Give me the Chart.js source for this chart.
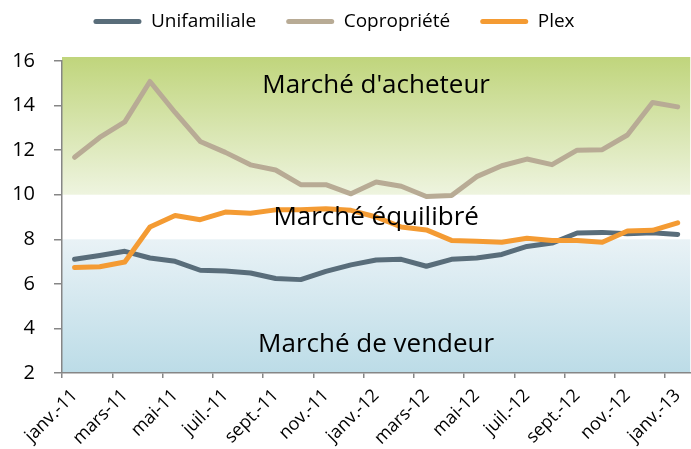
<html>
<head>
    <meta charset="utf-8">
    <title>Marché</title>
    <style>
        html, body { margin: 0; padding: 0; overflow: hidden; background: #fff; }
        #myChart { display: block; margin-left: -30px; }
    </style>
</head>
<body>
    <canvas id="myChart" width="730" height="449"></canvas>
</body>
<script src="https://cdn.jsdelivr.net/npm/chart.js"></script>
<script>
    const months = ['janv.-11', 'févr.-11', 'mars-11', 'avr.-11', 'mai-11', 'juin-11', 'juil.-11', 'août-11',
        'sept.-11', 'oct.-11', 'nov.-11', 'déc.-11', 'janv.-12', 'févr.-12', 'mars-12', 'avr.-12', 'mai-12',
        'juin-12', 'juil.-12', 'août-12', 'sept.-12', 'oct.-12', 'nov.-12', 'déc.-12', 'janv.-13']
    const unifamiliale = [7.1, 7.27, 7.46, 7.16, 7.01, 6.61, 6.58, 6.49, 6.24, 6.19, 6.56, 6.85, 7.07,
        7.1, 6.79, 7.1, 7.16, 7.32, 7.68, 7.83, 8.28, 8.31, 8.25, 8.29, 8.22]
    const copropriete = [11.68, 12.57, 13.27, 15.08, 13.69, 12.39, 11.9, 11.34, 11.11, 10.45, 10.45, 10.04, 10.57,
        10.38, 9.92, 9.96, 10.81, 11.3, 11.6, 11.35, 12.0, 12.02, 12.68, 14.14, 13.94]
    const plex = [6.73, 6.77, 6.98, 8.55, 9.07, 8.88, 9.22, 9.17, 9.32, 9.32, 9.37, 9.3, 9.0,
        8.55, 8.42, 7.95, 7.91, 7.87, 8.05, 7.95, 7.95, 7.87, 8.37, 8.4, 8.74]
    const seriesNames = ['Unifamiliale', 'Copropriété', 'Plex']
    const yTicks = [2, 4, 6, 8, 10, 12, 14, 16]
    const zoneLimits = [2, 8, 10, 16]
    const zoneNames = ['Marché de vendeur', 'Marché équilibré', "Marché d'acheteur"]

    const FONT = "'Open Sans', 'Noto Sans', sans-serif"
    const AXIS = '#868686'

    const zones = {
        id: 'zones',
        beforeDraw(chart) {
            const { ctx, chartArea: a, scales: { y } } = chart
            const yLow = y.getPixelForValue(zoneLimits[1])
            const yHigh = y.getPixelForValue(zoneLimits[2])
            const w = a.right - a.left
            ctx.save()
            let g = ctx.createLinearGradient(0, a.top - 4, 0, yHigh)
            g.addColorStop(0, '#c0d57c')
            g.addColorStop(1, '#eef4df')
            ctx.fillStyle = g
            ctx.fillRect(a.left, a.top - 4, w, yHigh - a.top + 4)
            g = ctx.createLinearGradient(0, yLow, 0, a.bottom)
            g.addColorStop(0, '#e9f2f6')
            g.addColorStop(1, '#bcdce7')
            ctx.fillStyle = g
            ctx.fillRect(a.left, yLow, w, a.bottom - yLow)
            ctx.restore()
        },
        afterDatasetsDraw(chart) {
            const { ctx, chartArea: a, scales: { y } } = chart
            const cx = (a.left + a.right) / 2
            ctx.save()
            ctx.font = '26px ' + FONT
            ctx.fillStyle = '#000'
            ctx.textAlign = 'center'
            ctx.textBaseline = 'middle'
            ctx.fillText(zoneNames[0], cx, y.getPixelForValue(zoneLimits[0]) - 28)
            ctx.fillText(zoneNames[1], cx, (y.getPixelForValue(zoneLimits[1]) + y.getPixelForValue(zoneLimits[2])) / 2 + 1)
            ctx.fillText(zoneNames[2], cx, y.getPixelForValue(zoneLimits[3]) + 25)
            ctx.restore()
        }
    }

    const line = (label, data, color, order) => ({
        label, data, order,
        borderColor: color,
        backgroundColor: color,
        borderWidth: 5,
        borderCapStyle: 'round',
        borderJoinStyle: 'round',
        pointRadius: 0,
        tension: 0,
        fill: false
    })

    new Chart(document.getElementById('myChart'), {
        type: 'line',
        data: {
            labels: months,
            datasets: [
                line(seriesNames[0], unifamiliale, '#596d7a', 2),
                line(seriesNames[1], copropriete, '#b8ab95', 1),
                line(seriesNames[2], plex, '#f49b33', 0)
            ]
        },
        plugins: [zones],
        options: {
            responsive: false,
            animation: false,
            layout: { padding: { top: -18, right: 2, left: 0, bottom: 0 } },
            plugins: {
                tooltip: { enabled: false },
                // empty subtitle only used as a spacer between legend and plot
                subtitle: { display: true, text: '', font: { size: 10 }, padding: { top: 0, bottom: 8 } },
                legend: {
                    position: 'top',
                    weight: 3000,
                    labels: {
                        boxWidth: 48,
                        boxHeight: 5,
                        useBorderRadius: true,
                        borderRadius: 2.5,
                        padding: 30,
                        color: '#000',
                        font: { family: FONT, size: 19 },
                        generateLabels: (chart) => Chart.defaults.plugins.legend.labels.generateLabels(chart)
                            .map(l => ({ ...l, lineWidth: 0 }))
                            .sort((p, q) => p.datasetIndex - q.datasetIndex)
                    }
                }
            },
            scales: {
                x: {
                    offset: true,
                    afterFit: (s) => { s.height = 76 },
                    border: { color: AXIS, width: 1.5 },
                    grid: {
                        offset: true,
                        drawOnChartArea: false,
                        tickLength: 5,
                        lineWidth: 1.5,
                        color: (c) => (c.index % 2 === 0 ? AXIS : 'rgba(0,0,0,0)')
                    },
                    ticks: {
                        autoSkip: false,
                        minRotation: 45,
                        maxRotation: 45,
                        padding: 7,
                        color: '#000',
                        font: { family: FONT, size: 18 },
                        callback: (v, i) => (i % 2 === 0 ? months[i] : '')
                    }
                },
                y: {
                    min: yTicks[0],
                    max: yTicks[yTicks.length - 1],
                    afterFit: (s) => { s.width = 92 },
                    afterBuildTicks: (s) => { s.ticks = yTicks.map(v => ({ value: v })) },
                    border: { color: AXIS, width: 1.5 },
                    grid: { drawOnChartArea: false, tickLength: 8, lineWidth: 1.5, color: AXIS },
                    ticks: {
                        padding: 19,
                        color: '#000',
                        font: { family: FONT, size: 20 }
                    }
                }
            }
        }
    })
</script>
</html>
